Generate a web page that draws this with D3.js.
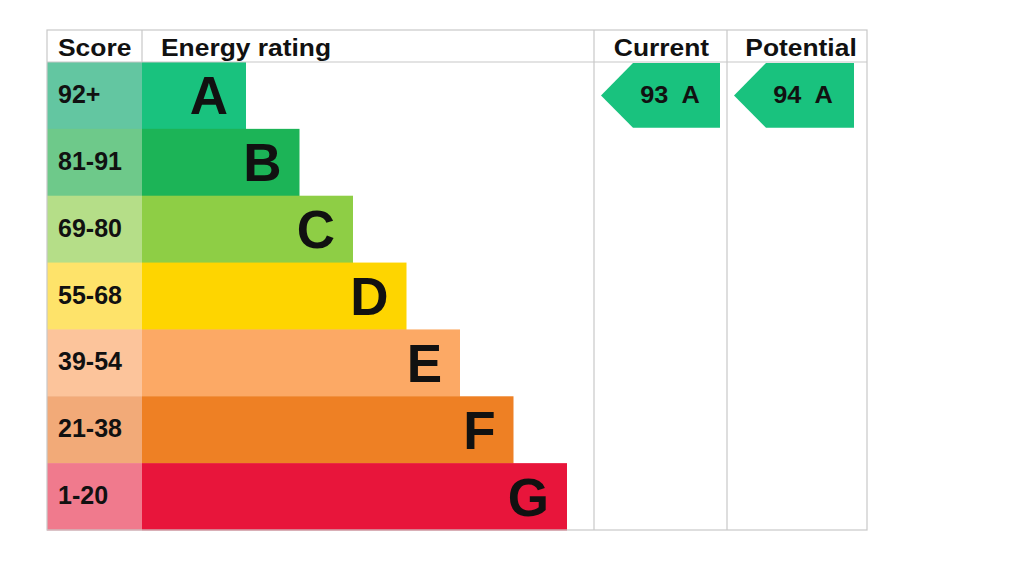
<!DOCTYPE html>
<html><head><meta charset="utf-8">
<script src="https://cdn.jsdelivr.net/npm/d3@7"></script>
<style>body{margin:0;background:#fff}svg{display:block}text{font-family:"Liberation Sans",Arial,sans-serif;font-weight:bold}</style>
</head><body>
<svg id="c" width="1024" height="573"></svg>
<script>
const bands = ["A","B","C","D","E","F","G"];
const scoreLabels = ["92+","81-91","69-80","55-68","39-54","21-38","1-20"];
const barRank = [1,2,3,4,5,6,7];
const barColors = ["#19c27e","#1cb457","#8ece45","#fed500","#fca965","#ee8024","#e8153b"];
const scoreColors = ["#63c6a1","#6ec98a","#b5de88","#fee36a","#fcc49b","#f2aa78","#f07a8d"];
const headers = ["Score","Energy rating","Current","Potential"];
const currentValue = 93, currentBand = "A";
const potentialValue = 94, potentialBand = "A";

const svg = d3.select("#c");
const L=47, R=867, T=30, H=62, B=530;
const colX = [47,142,594,727,867];
const y = d3.scaleBand().domain(bands).range([H,B]);
const w = d3.scaleLinear().domain([1,7]).range([104,425]);

// score cells
svg.selectAll("rect.s").data(bands).join("rect")
  .attr("x",colX[0]).attr("y",d=>y(d)).attr("width",colX[1]-colX[0]).attr("height",y.bandwidth()+0.5)
  .attr("fill",(d,i)=>scoreColors[i]);
svg.selectAll("text.s").data(bands).join("text")
  .attr("x",58).attr("y",d=>y(d)+y.bandwidth()/2+7.5).attr("font-size",25).attr("fill","#111")
  .text((d,i)=>scoreLabels[i]);
// bars
svg.selectAll("rect.b").data(bands).join("rect")
  .attr("x",colX[1]).attr("y",d=>y(d)).attr("width",(d,i)=>w(barRank[i])).attr("height",y.bandwidth()+0.5)
  .attr("fill",(d,i)=>barColors[i]);
svg.selectAll("text.b").data(bands).join("text")
  .attr("x",(d,i)=>colX[1]+w(barRank[i])-18).attr("y",d=>y(d)+y.bandwidth()/2+19)
  .attr("text-anchor","end").attr("font-size",53).attr("fill","#111").text(d=>d);

// grid
const g = svg.append("g").attr("stroke","#c8c8c8").attr("stroke-width",1.2).attr("fill","none");
g.append("rect").attr("x",L).attr("y",T).attr("width",R-L).attr("height",B-T);
g.append("line").attr("x1",L).attr("x2",R).attr("y1",H).attr("y2",H);
g.append("line").attr("x1",colX[1]).attr("x2",colX[1]).attr("y1",T).attr("y2",H);
[2,3].forEach(k=>g.append("line").attr("x1",colX[k]).attr("x2",colX[k]).attr("y1",T).attr("y2",B));

// headers (slightly wide-set, as in the reference)
const hx = [58,161,661.5,801];
const ha = ["start","start","middle","middle"];
headers.forEach((h,i)=>svg.append("text")
  .attr("transform",`translate(${hx[i]},56) scale(1.1,1)`)
  .attr("text-anchor",ha[i]).attr("font-size",24).attr("fill","#111").text(h));

// arrows
function arrow(x0,x1,val,band,tx){
  const i = bands.indexOf(band);
  const top=y(band)+1, bot=y(band)+y.bandwidth()-1, mid=(top+bot)/2, sh=x0+32;
  svg.append("path").attr("d",`M${x0},${mid}L${sh},${top}L${x1},${top}L${x1},${bot}L${sh},${bot}Z`)
    .attr("fill",barColors[i]);
  svg.append("text").attr("transform",`translate(${tx},${mid+8}) scale(1.1,1)`)
    .attr("text-anchor","middle").attr("font-size",23)
    .attr("fill","#111").attr("xml:space","preserve").text(val+"  "+band);
}
arrow(601,720,currentValue,currentBand,670);
arrow(734,854,potentialValue,potentialBand,803);
</script>
</body></html>
